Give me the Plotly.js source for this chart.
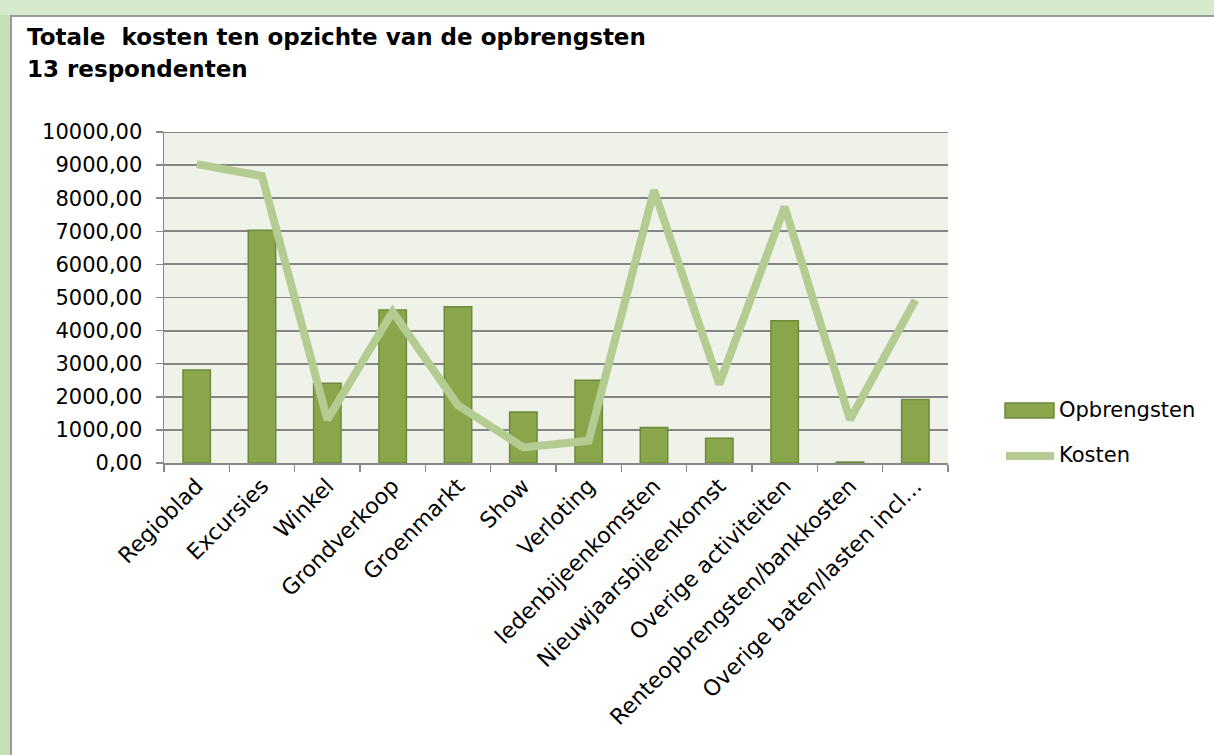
<!DOCTYPE html>
<html>
<head>
<meta charset="utf-8">
<script src="https://cdn.plot.ly/plotly-3.0.1.min.js"></script>
<style>
  html, body { margin:0; padding:0; width:1214px; height:755px; overflow:hidden; background:#C6E1B7; }
  #top { position:absolute; left:0; top:0; width:1214px; height:15px; background:#D5E9CC; }
  #panel { position:absolute; left:10px; top:15px; width:1204px; height:740px; background:#ffffff;
           border-left:2px solid #9A9A9A; border-top:2px solid #9A9A9A; }
  #chart { position:absolute; left:0; top:0; width:1214px; height:755px; }
</style>
</head>
<body>
<div id="top"></div>
<div id="panel"></div>
<div id="chart"></div>
<script>
const categories = ["Regioblad","Excursies","Winkel","Grondverkoop","Groenmarkt","Show","Verloting",
  "ledenbijeenkomsten","Nieuwjaarsbijeenkomst","Overige activiteiten","Renteopbrengsten/bankkosten","Overige baten/lasten incl…"];
const opbrengsten = [2810, 7030, 2410, 4620, 4720, 1540, 2500, 1070, 750, 4300, 30, 1920];
const kosten = [9030, 8670, 1310, 4570, 1740, 470, 670, 8240, 2380, 7740, 1310, 4920];
const seriesNames = ["Opbrengsten", "Kosten"];
const titleLine1 = "Totale  kosten ten opzichte van de opbrengsten";
const titleLine2 = "13 respondenten";

const FONT = "DejaVu Sans, Verdana, sans-serif";
const BAR_FILL = "#89A64B", BAR_LINE = "#6F8A3C", LINE_COL = "#B4CC92";

const traces = [
  { type:"bar", name:seriesNames[0], x:categories, y:opbrengsten, showlegend:false,
    marker:{ color:BAR_FILL, line:{ color:BAR_LINE, width:1.5 } } },
  { type:"scatter", mode:"lines", name:seriesNames[1], x:categories, y:kosten, showlegend:false,
    line:{ color:LINE_COL, width:8 } }
];

const layout = {
  width:1214, height:755,
  margin:{ l:164, r:266, t:132, b:292 },
  paper_bgcolor:"rgba(0,0,0,0)",
  plot_bgcolor:"#EFF2E8",
  bargap:0.58,
  separators:",.",
  font:{ family:FONT, size:20, color:"#000000" },
  showlegend:false,
  xaxis:{ type:"category", tickangle:-45, showgrid:false, showline:true, linecolor:"#888888", linewidth:1.5,
          ticks:"outside", tickson:"boundaries", ticklen:7, tickcolor:"#888888", tickwidth:1.5,
          tickfont:{ family:FONT, size:22, color:"#000" }, automargin:false },
  yaxis:{ range:[0,10000], dtick:1000, tickformat:".2f", showgrid:true, gridcolor:"#858585", gridwidth:1.8,
          showline:true, linecolor:"#888888", linewidth:1.5, ticks:"outside", ticklen:7, tickcolor:"#888888",
          tickwidth:1.5, zeroline:false, ticklabelstandoff:9,
          tickfont:{ family:FONT, size:21, color:"#000" }, automargin:false },
  shapes:[
    { type:"line", xref:"paper", yref:"y", x0:0, x1:1, y0:10000, y1:10000, line:{ color:"#858585", width:1.8 } },
    { type:"rect", xref:"paper", yref:"paper", x0:(1005-164)/784, x1:(1054-164)/784,
      y0:(463-418)/331, y1:(463-403)/331, fillcolor:BAR_FILL, line:{ color:BAR_LINE, width:1.5 } },
    { type:"line", xref:"paper", yref:"paper", x0:(1006-164)/784, x1:(1054-164)/784,
      y0:(463-456)/331, y1:(463-456)/331, line:{ color:LINE_COL, width:8 } }
  ],
  annotations:[
    { text:"<b>"+titleLine1+"</b>", xref:"paper", yref:"paper", x:(25-164)/784, y:1.0, xanchor:"left", yanchor:"middle",
      yshift:132-37, showarrow:false, font:{ family:FONT, size:23, color:"#000" } },
    { text:"<b>"+titleLine2+"</b>", xref:"paper", yref:"paper", x:(25-164)/784, y:1.0, xanchor:"left", yanchor:"middle",
      yshift:132-69, showarrow:false, font:{ family:FONT, size:23, color:"#000" } },
    { text:seriesNames[0], xref:"paper", yref:"paper", x:(1057-164)/784, y:(463-410)/331, xanchor:"left", yanchor:"middle",
      showarrow:false, font:{ family:FONT, size:21, color:"#000" } },
    { text:seriesNames[1], xref:"paper", yref:"paper", x:(1057-164)/784, y:(463-455)/331, xanchor:"left", yanchor:"middle",
      showarrow:false, font:{ family:FONT, size:21, color:"#000" } }
  ]
};

Plotly.newPlot("chart", traces, layout, { displayModeBar:false, staticPlot:true });
</script>
</body>
</html>
